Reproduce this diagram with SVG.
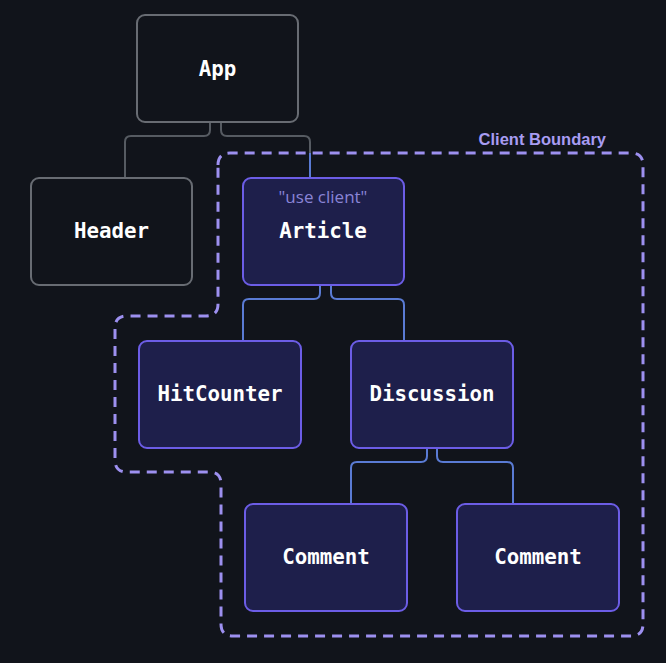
<svg xmlns="http://www.w3.org/2000/svg" width="666" height="663" viewBox="0 0 666 663">
<style>
.bg{fill:#11141b}
.sbox{fill:#11141b;stroke:#686c73;stroke-width:2}
.cbox{fill:#1e1f4b;stroke:#6c5de6;stroke-width:2}
.lbl{font-family:"DejaVu Sans Mono","Liberation Mono",monospace;font-weight:bold;font-size:20.8px;fill:#ffffff;text-anchor:middle;dominant-baseline:central}
.gl{fill:none;stroke:#565b62;stroke-width:2}
.bl{fill:none;stroke:#5a7bd4;stroke-width:2}
.bound{fill:none;stroke:#9d90f0;stroke-width:3;stroke-dasharray:10 7}
.blab{font-family:"Liberation Sans","Noto Sans",sans-serif;font-weight:bold;font-size:16.5px;fill:#a89cf2}
.dir{font-family:"Open Sans","Liberation Sans",sans-serif;font-size:17px;fill:#8a84d6;text-anchor:middle;dominant-baseline:central}
</style>
<rect class="bg" x="0" y="0" width="666" height="663"/>
<g id="boundary">
<path class="bound" d="M218 165 Q218 153 230 153 H631 Q643 153 643 165 V624 Q643 636 631 636 H233 Q221 636 221 624 V484 Q221 472 209 472 H127 Q115 472 115 460 V328 Q115 316 127 316 H206 Q218 316 218 304 Z"/>
<text class="blab" x="606" y="145" text-anchor="end">Client Boundary</text>
</g>
<g id="connectors">
<path class="gl" d="M210 122 V130 Q210 136 204 136 H131 Q125 136 125 142 V178"/>
<path class="gl" d="M221 122 V130 Q221 136 227 136 H304 Q310 136 310 142 V153"/>
<path class="bl" d="M310 153 V178"/>
<path class="bl" d="M320 285 V293 Q320 299 314 299 H249 Q243 299 243 305 V341"/>
<path class="bl" d="M331 285 V293 Q331 299 337 299 H398 Q404 299 404 305 V341"/>
<path class="bl" d="M427 448 V456 Q427 462 421 462 H357 Q351 462 351 468 V504"/>
<path class="bl" d="M437 448 V456 Q437 462 443 462 H507 Q513 462 513 468 V504"/>
</g>
<g id="app"><rect class="sbox" x="137" y="15" width="161" height="107" rx="8"/><text class="lbl" x="217.5" y="69">App</text></g>
<g id="header"><rect class="sbox" x="31" y="178" width="161" height="107" rx="8"/><text class="lbl" x="111.5" y="231">Header</text></g>
<g id="article"><rect class="cbox" x="243" y="178" width="161" height="107" rx="8"/><text class="dir" x="323" y="196">"use client"</text><text class="lbl" x="323" y="231">Article</text></g>
<g id="hitcounter"><rect class="cbox" x="139" y="341" width="162" height="107" rx="8"/><text class="lbl" x="220" y="394">HitCounter</text></g>
<g id="discussion"><rect class="cbox" x="351" y="341" width="162" height="107" rx="8"/><text class="lbl" x="432" y="394">Discussion</text></g>
<g id="comment1"><rect class="cbox" x="245" y="504" width="162" height="107" rx="8"/><text class="lbl" x="326" y="557">Comment</text></g>
<g id="comment2"><rect class="cbox" x="457" y="504" width="162" height="107" rx="8"/><text class="lbl" x="538" y="557">Comment</text></g>
</svg>
